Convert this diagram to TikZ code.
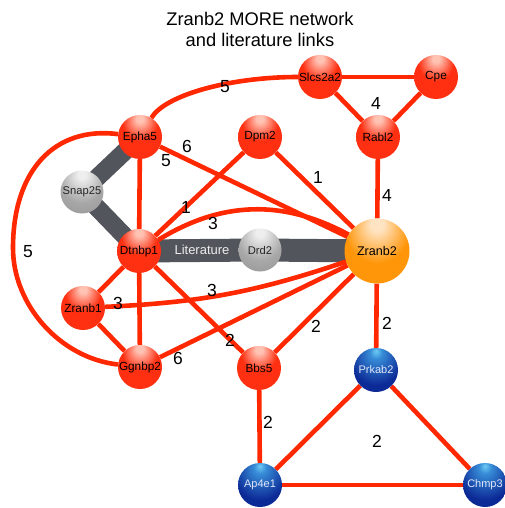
\documentclass[tikz,border=0pt]{standalone}
\usepackage{fontspec}
\setmainfont{Liberation Sans}
\definecolor{nred}{RGB}{255,48,18}
\definecolor{nredhi}{RGB}{255,195,180}
\definecolor{nreddk}{RGB}{205,28,0}
\definecolor{norange}{RGB}{255,150,10}
\definecolor{norangehi}{RGB}{255,228,195}
\definecolor{norangedk}{RGB}{238,120,0}
\definecolor{ngray}{RGB}{168,168,168}
\definecolor{ngrayhi}{RGB}{238,238,238}
\definecolor{ngraydk}{RGB}{120,120,120}
\definecolor{nblue}{RGB}{12,42,150}
\definecolor{nbluemid}{RGB}{55,140,215}
\definecolor{nbluehi}{RGB}{110,205,245}
\definecolor{nbluedk}{RGB}{0,22,105}
\definecolor{edgered}{RGB}{255,40,0}
\definecolor{bandgray}{RGB}{82,86,92}
\definecolor{bluetext}{RGB}{225,230,250}
\pgfdeclareradialshading{redball}{\pgfpoint{0bp}{22bp}}{color(0bp)=(nredhi); color(4bp)=(nredhi); color(20bp)=(nred); color(54bp)=(nred); color(72bp)=(nreddk)}
\pgfdeclareradialshading{orangeball}{\pgfpoint{0bp}{22bp}}{color(0bp)=(norangehi); color(5bp)=(norangehi); color(24bp)=(norange); color(56bp)=(norange); color(72bp)=(norangedk)}
\pgfdeclareradialshading{grayball}{\pgfpoint{0bp}{22bp}}{color(0bp)=(ngrayhi); color(5bp)=(ngrayhi); color(26bp)=(ngray); color(72bp)=(ngraydk)}
\pgfdeclareradialshading{blueball}{\pgfpoint{0bp}{22bp}}{color(0bp)=(nbluehi); color(7bp)=(nbluemid); color(30bp)=(nblue); color(58bp)=(nblue); color(72bp)=(nbluedk)}
\pgfdeclarelayer{edges}
\pgfsetlayers{edges,main}
\begin{document}
\begin{tikzpicture}[x=1pt,y=-1pt,
  rednode/.style={circle,minimum size=44pt,inner sep=0pt,shading=redball,text=black,font=\fontsize{11.8}{12}\selectfont},
  graynode/.style={circle,minimum size=43pt,inner sep=0pt,shading=grayball,text=black!85,font=\fontsize{11.2}{12}\selectfont},
  bluenode/.style={circle,minimum size=44pt,inner sep=0pt,shading=blueball,text=bluetext,font=\fontsize{11}{12}\selectfont},
  orangenode/.style={circle,minimum size=65pt,inner sep=0pt,shading=orangeball,text=black,font=\fontsize{12.6}{13}\selectfont},
  redlink/.style={draw=edgered,line width=4.6pt},
  graylink/.style={draw=bandgray,line width=#1},
  numlabel/.style={inner sep=0pt,font=\fontsize{17.5}{18}\selectfont,text=black},
  titletext/.style={anchor=base,inner sep=0pt,font=\fontsize{18.3}{22}\selectfont,text=black}]
\useasboundingbox (0,0) rectangle (505,508);
% title
\node[titletext] (title1) at (260,26) {Zranb2 MORE network};
\node[titletext] (title2) at (260,47) {and literature links};
% nodes
\node[rednode] (slcs) at (320,77) {Slcs2a2};
\node[rednode] (cpe) at (436,77) {Cpe};
\node[rednode] (rabl) at (378,137) {Rabl2};
\node[rednode] (epha) at (140,137) {Epha5};
\node[rednode] (dpm) at (260,137) {Dpm2};
\node[graynode] (snap) at (82,192) {Snap25};
\node[rednode] (dtnbp) at (139,251) {Dtnbp1};
\node[graynode] (drd) at (260,250) {Drd2};
\node[orangenode] (zranb2) at (377,251) {Zranb2};
\node[rednode] (zranb1) at (83,308) {Zranb1};
\node[rednode] (ggnbp) at (140,367) {Ggnbp2};
\node[rednode] (bbs) at (259,368) {Bbs5};
\node[bluenode] (prkab) at (376,370) {Prkab2};
\node[bluenode] (ap4e) at (260,485) {Ap4e1};
\node[bluenode] (chmp) at (485,485) {Chmp3};
\coordinate (leftpt) at (13,248);
% edges
\begin{pgfonlayer}{edges}
\draw[graylink=18pt] (epha.center) -- (snap.center) -- (dtnbp.center);
\draw[graylink=23pt] (dtnbp.center) -- (drd.center) -- (zranb2.center);
\draw[redlink] (epha) .. controls (165,95) and (230,77) .. (slcs);
\draw[redlink] (slcs) -- (cpe);
\draw[redlink] (slcs) -- (rabl);
\draw[redlink] (cpe) -- (rabl);
\draw[redlink] (rabl) -- (zranb2);
\draw[redlink] (epha) -- (zranb2);
\draw[redlink] (epha) -- (dtnbp);
\draw[redlink] (epha) .. controls (55,126) and (13,170) .. (leftpt) .. controls (13,305) and (60,358) .. (ggnbp);
\draw[redlink] (dpm) -- (dtnbp);
\draw[redlink] (dpm) -- (zranb2);
\draw[redlink] (dtnbp) to[bend left=30] (zranb2);
\draw[redlink] (dtnbp) -- (zranb1);
\draw[redlink] (dtnbp) -- (ggnbp);
\draw[redlink] (dtnbp) -- (bbs);
\draw[redlink] (zranb1) to[bend right=8] (zranb2);
\draw[redlink] (zranb1) -- (ggnbp);
\draw[redlink] (ggnbp) -- (zranb2);
\draw[redlink] (bbs) -- (zranb2);
\draw[redlink] (zranb2) -- (prkab);
\draw[redlink] (bbs) -- (ap4e);
\draw[redlink] (prkab) -- (ap4e);
\draw[redlink] (prkab) -- (chmp);
\draw[redlink] (ap4e) -- (chmp);
\end{pgfonlayer}
% labels
\node[inner sep=0pt,text=white!92!black,font=\fontsize{13}{14}\selectfont] (lit) at (202,250) {Literature};
\node[numlabel] (n1) at (225,87) {5};
\node[numlabel] (n2) at (376,103) {4};
\node[numlabel] (n3) at (187,146) {6};
\node[numlabel] (n4) at (166,161) {5};
\node[numlabel] (n5) at (186,207) {1};
\node[numlabel] (n6) at (213,223) {3};
\node[numlabel] (n7) at (318,177) {1};
\node[numlabel] (n8) at (387,195) {4};
\node[numlabel] (n9) at (28,252) {5};
\node[numlabel] (n10) at (118,303) {3};
\node[numlabel] (n11) at (212,290) {3};
\node[numlabel] (n12) at (230,340) {2};
\node[numlabel] (n13) at (178,358) {6};
\node[numlabel] (n14) at (316,326) {2};
\node[numlabel] (n15) at (387,323) {2};
\node[numlabel] (n16) at (268,422) {2};
\node[numlabel] (n17) at (377,441) {2};
\end{tikzpicture}
\end{document}
